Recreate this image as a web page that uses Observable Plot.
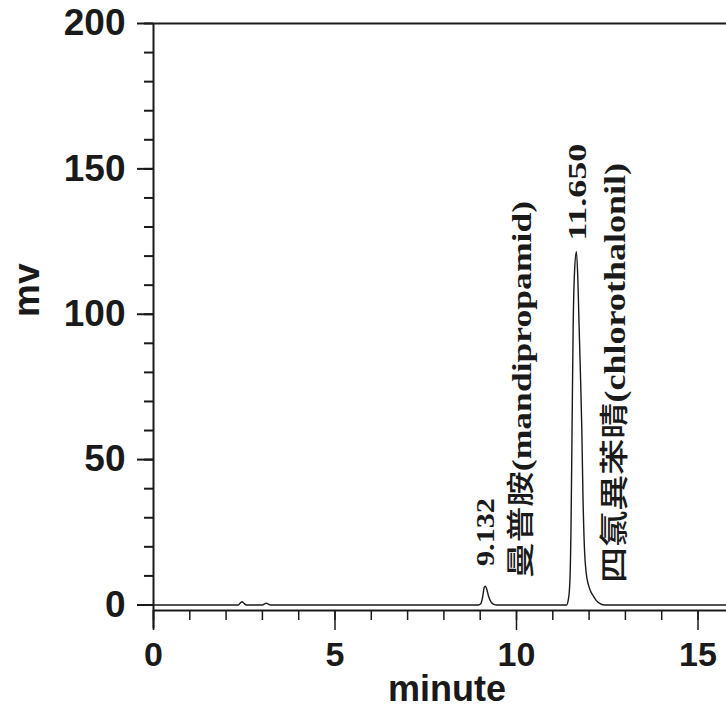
<!DOCTYPE html>
<html><head><meta charset="utf-8">
<script src="https://cdn.jsdelivr.net/npm/d3@7"></script>
<script src="https://cdn.jsdelivr.net/npm/@observablehq/plot@0.6"></script>
<style>body{margin:0;background:#fff} svg{display:block}</style>
</head><body><div id="chart"></div>
<script>
// chromatogram trace (minute, mv)
const time = [0, 2.34, 2.40, 2.44, 2.49, 2.56, 3.00, 3.06, 3.11, 3.16, 3.22,
  8.95, 9.02, 9.07, 9.11, 9.14, 9.18, 9.23, 9.30, 9.38, 9.45,
  11.38, 11.43, 11.47, 11.50, 11.53, 11.56, 11.60, 11.65, 11.69, 11.72, 11.76, 11.80, 11.83, 11.87, 11.92, 11.98, 12.05, 12.12, 12.20, 12.30, 12.45, 15.8];
const signal = [0, 0, 0.8, 1.1, 0.6, 0, 0, 0.4, 0.6, 0.3, 0,
  0, 0.5, 3, 6, 6.5, 5.5, 3, 1, 0.2, 0,
  0, 2, 8, 25, 60, 95, 115, 121.5, 112, 98, 80, 60, 38, 20, 11, 7, 4.5, 3, 1.5, 0.5, 0, 0];

const annotationText = ["9.132", "曼普胺(mandipropamid)", "11.650", "四氯異苯晴(chlorothalonil)"];
const annotationTime = [9.15, 10.14, 11.68, 12.73];
const annotationMv = [13.4, 9.3, 125.3, 7.6];

const xMajorTicks = [0, 5, 10, 15];
const xMinorTicks = [0,1,2,3,4,5,6,7,8,9,10,11,12,13,14,15];
const yMajorTicks = [0, 50, 100, 150, 200];
const yMinorTicks = [0,10,20,30,40,50,60,70,80,90,100,110,120,130,140,150,160,170,180,190,200];

const trace = time.map((t, i) => ({t, v: signal[i]}));
const annotations = annotationText.map((s, i) => ({s, t: annotationTime[i], v: annotationMv[i]}));

// layout / style
const labelLengths = [68, 377, 97, 420];
const labelSizes = [26, 28, 26, 29];
const sans = "Liberation Sans, Arial, sans-serif";
const ink = "#1a1a1a";

const chart = Plot.plot({
  width: 726, height: 710,
  marginLeft: 153, marginRight: 0, marginTop: 23, marginBottom: 100,
  style: {background: "#fff", color: ink, overflow: "visible"},
  x: {domain: [0, 15.785], axis: null},
  y: {domain: [-1.9, 200], axis: null},
  marks: [
    Plot.ruleY([200], {stroke: ink, strokeWidth: 2}),
    Plot.ruleY([-1.9], {stroke: ink, strokeWidth: 2}),
    Plot.ruleX([0], {y1: -8.3, y2: 200, stroke: ink, strokeWidth: 2}),
    Plot.axisY(yMinorTicks, {tickSize: 9, tickFormat: () => "", strokeWidth: 2, label: null}),
    Plot.axisY(yMajorTicks, {tickSize: 16, tickPadding: 12, strokeWidth: 2, fontSize: 37, fontWeight: "bold", fontFamily: sans, label: null}),
    Plot.axisX(xMinorTicks, {tickSize: 10, tickFormat: () => "", strokeWidth: 1.5, label: null}),
    Plot.axisX(xMajorTicks, {tickSize: 20, tickPadding: 11, strokeWidth: 1.5, fontSize: 34, fontWeight: "bold", fontFamily: sans, label: null}),
    Plot.text(["mv"], {frameAnchor: "left", dx: -126, rotate: -90, fontSize: 37, fontWeight: "bold", fontFamily: sans, fill: ink}),
    Plot.text(["minute"], {frameAnchor: "bottom", dx: 7, dy: 90, fontSize: 36, fontWeight: "bold", fontFamily: sans, fill: ink}),
    Plot.line(trace, {x: "t", y: "v", stroke: ink, strokeWidth: 1.4, curve: "monotone-x"}),
    Plot.text(annotations, {x: "t", y: "v", text: "s", rotate: -90, textAnchor: "start", lineAnchor: "middle",
      fontWeight: "bold", fontFamily: "Liberation Serif, serif", fill: ink, className: "peaklabel"})
  ]
});

d3.select(chart).selectAll(".peaklabel text").each(function(d, i) {
  const el = d3.select(this);
  const s = el.text();
  el.text(null)
    .style("font-size", labelSizes[i] + "px")
    .attr("textLength", labelLengths[i])
    .attr("lengthAdjust", "spacingAndGlyphs");
  // CJK characters in a lighter weight, Latin in bold serif
  const parts = s.match(/[\u3400-\u9fff]+|[^\u3400-\u9fff]+/g);
  for (const p of parts) {
    const cjk = /[\u3400-\u9fff]/.test(p);
    el.append("tspan").text(p)
      .style("font-weight", cjk ? "500" : "bold")
      .style("font-family", cjk ? "'Noto Sans CJK TC', sans-serif" : "'Liberation Serif', serif");
  }
});
document.getElementById("chart").append(chart);
</script>
</body></html>
